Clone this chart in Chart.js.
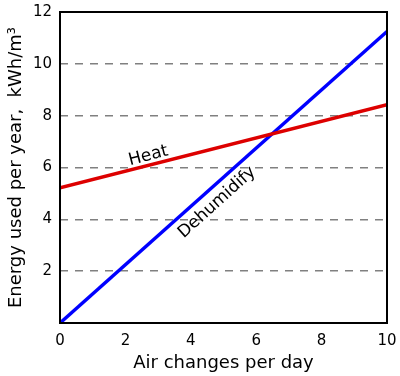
<!DOCTYPE html>
<html>
<head>
<meta charset="utf-8">
<script src="https://cdn.jsdelivr.net/npm/chart.js@4"></script>
<style>
  html, body { margin: 0; padding: 0; background: #fff; }
  #wrap { width: 400px; height: 376px; }
</style>
</head>
<body>
<div id="wrap"><canvas id="chart" width="400" height="376"></canvas></div>
<script>
const airChanges = [0, 10];
const heatEnergy = [5.22, 8.42];
const dehumidifyEnergy = [0, 11.25];
const yTicks = [2, 4, 6, 8, 10, 12];

const FONT = "'DejaVu Sans', sans-serif";

// frame around the plot and the two line labels
const framePlugin = {
    id: 'frame',
    afterDatasetsDraw(chart) {
        const { ctx, chartArea: a, scales } = chart;
        ctx.save();
        ctx.strokeStyle = '#000';
        ctx.lineWidth = 2;
        ctx.strokeRect(a.left, a.top, a.right - a.left, a.bottom - a.top);

        ctx.fillStyle = '#000';
        ctx.font = '17px ' + FONT;
        ctx.textAlign = 'center';
        ctx.textBaseline = 'middle';

        ctx.translate(scales.x.getPixelForValue(2.7), scales.y.getPixelForValue(6.45));
        ctx.rotate(-14.5 * Math.PI / 180);
        ctx.fillText('Heat', 0, 0);
        ctx.restore();

        ctx.save();
        ctx.fillStyle = '#000';
        ctx.font = '17px ' + FONT;
        ctx.textAlign = 'center';
        ctx.textBaseline = 'middle';
        ctx.translate(scales.x.getPixelForValue(4.8), scales.y.getPixelForValue(4.65));
        ctx.rotate(-42 * Math.PI / 180);
        ctx.fillText('Dehumidify', 0, 0);
        ctx.restore();
    }
};

new Chart(document.getElementById('chart'), {
    type: 'line',
    data: {
        datasets: [{
            label: 'Heat',
            data: airChanges.map((x, i) => ({ x: x, y: heatEnergy[i] })),
            borderColor: '#dd0000',
            borderWidth: 3.5,
            pointRadius: 0
        }, {
            label: 'Dehumidify',
            data: airChanges.map((x, i) => ({ x: x, y: dehumidifyEnergy[i] })),
            borderColor: '#0000ff',
            borderWidth: 3.5,
            pointRadius: 0
        }]
    },
    options: {
        responsive: false,
        animation: false,
        layout: { padding: 0 },
        plugins: {
            legend: { display: false },
            tooltip: { enabled: false }
        },
        scales: {
            x: {
                type: 'linear',
                min: 0,
                max: 10,
                afterFit: (scale) => {
                    scale.height = 53;
                    scale.paddingLeft = 0;
                    scale.paddingRight = 13;
                },
                ticks: { stepSize: 2, color: '#000', font: { family: FONT, size: 15 }, padding: 9 },
                grid: { display: false, drawTicks: false },
                border: { display: false },
                title: {
                    display: true,
                    text: 'Air changes per day',
                    color: '#000',
                    font: { family: FONT, size: 18 },
                    padding: { top: 0, bottom: 2 }
                }
            },
            y: {
                min: 0,
                max: 12,
                afterFit: (scale) => {
                    scale.width = 60;
                    scale.paddingTop = 12;
                    scale.paddingBottom = 0;
                },
                afterBuildTicks: (scale) => {
                    scale.ticks = [0].concat(yTicks).map(v => ({ value: v }));
                },
                ticks: {
                    color: '#000',
                    font: { family: FONT, size: 15 },
                    padding: 8,
                    callback: (v) => (v === 0 ? '' : v)
                },
                grid: {
                    drawTicks: false,
                    lineWidth: 1.5,
                    color: (c) => (c.tick && (c.tick.value === 0 || c.tick.value === 12) ? 'rgba(0,0,0,0)' : '#808080')
                },
                border: { display: false, dash: [8, 7] },
                title: {
                    display: true,
                    text: 'Energy used per year,  kWh/m³',
                    color: '#000',
                    font: { family: FONT, size: 18 },
                    padding: { top: 6, bottom: 0 }
                }
            }
        }
    },
    plugins: [framePlugin]
});
</script>
</body>
</html>
